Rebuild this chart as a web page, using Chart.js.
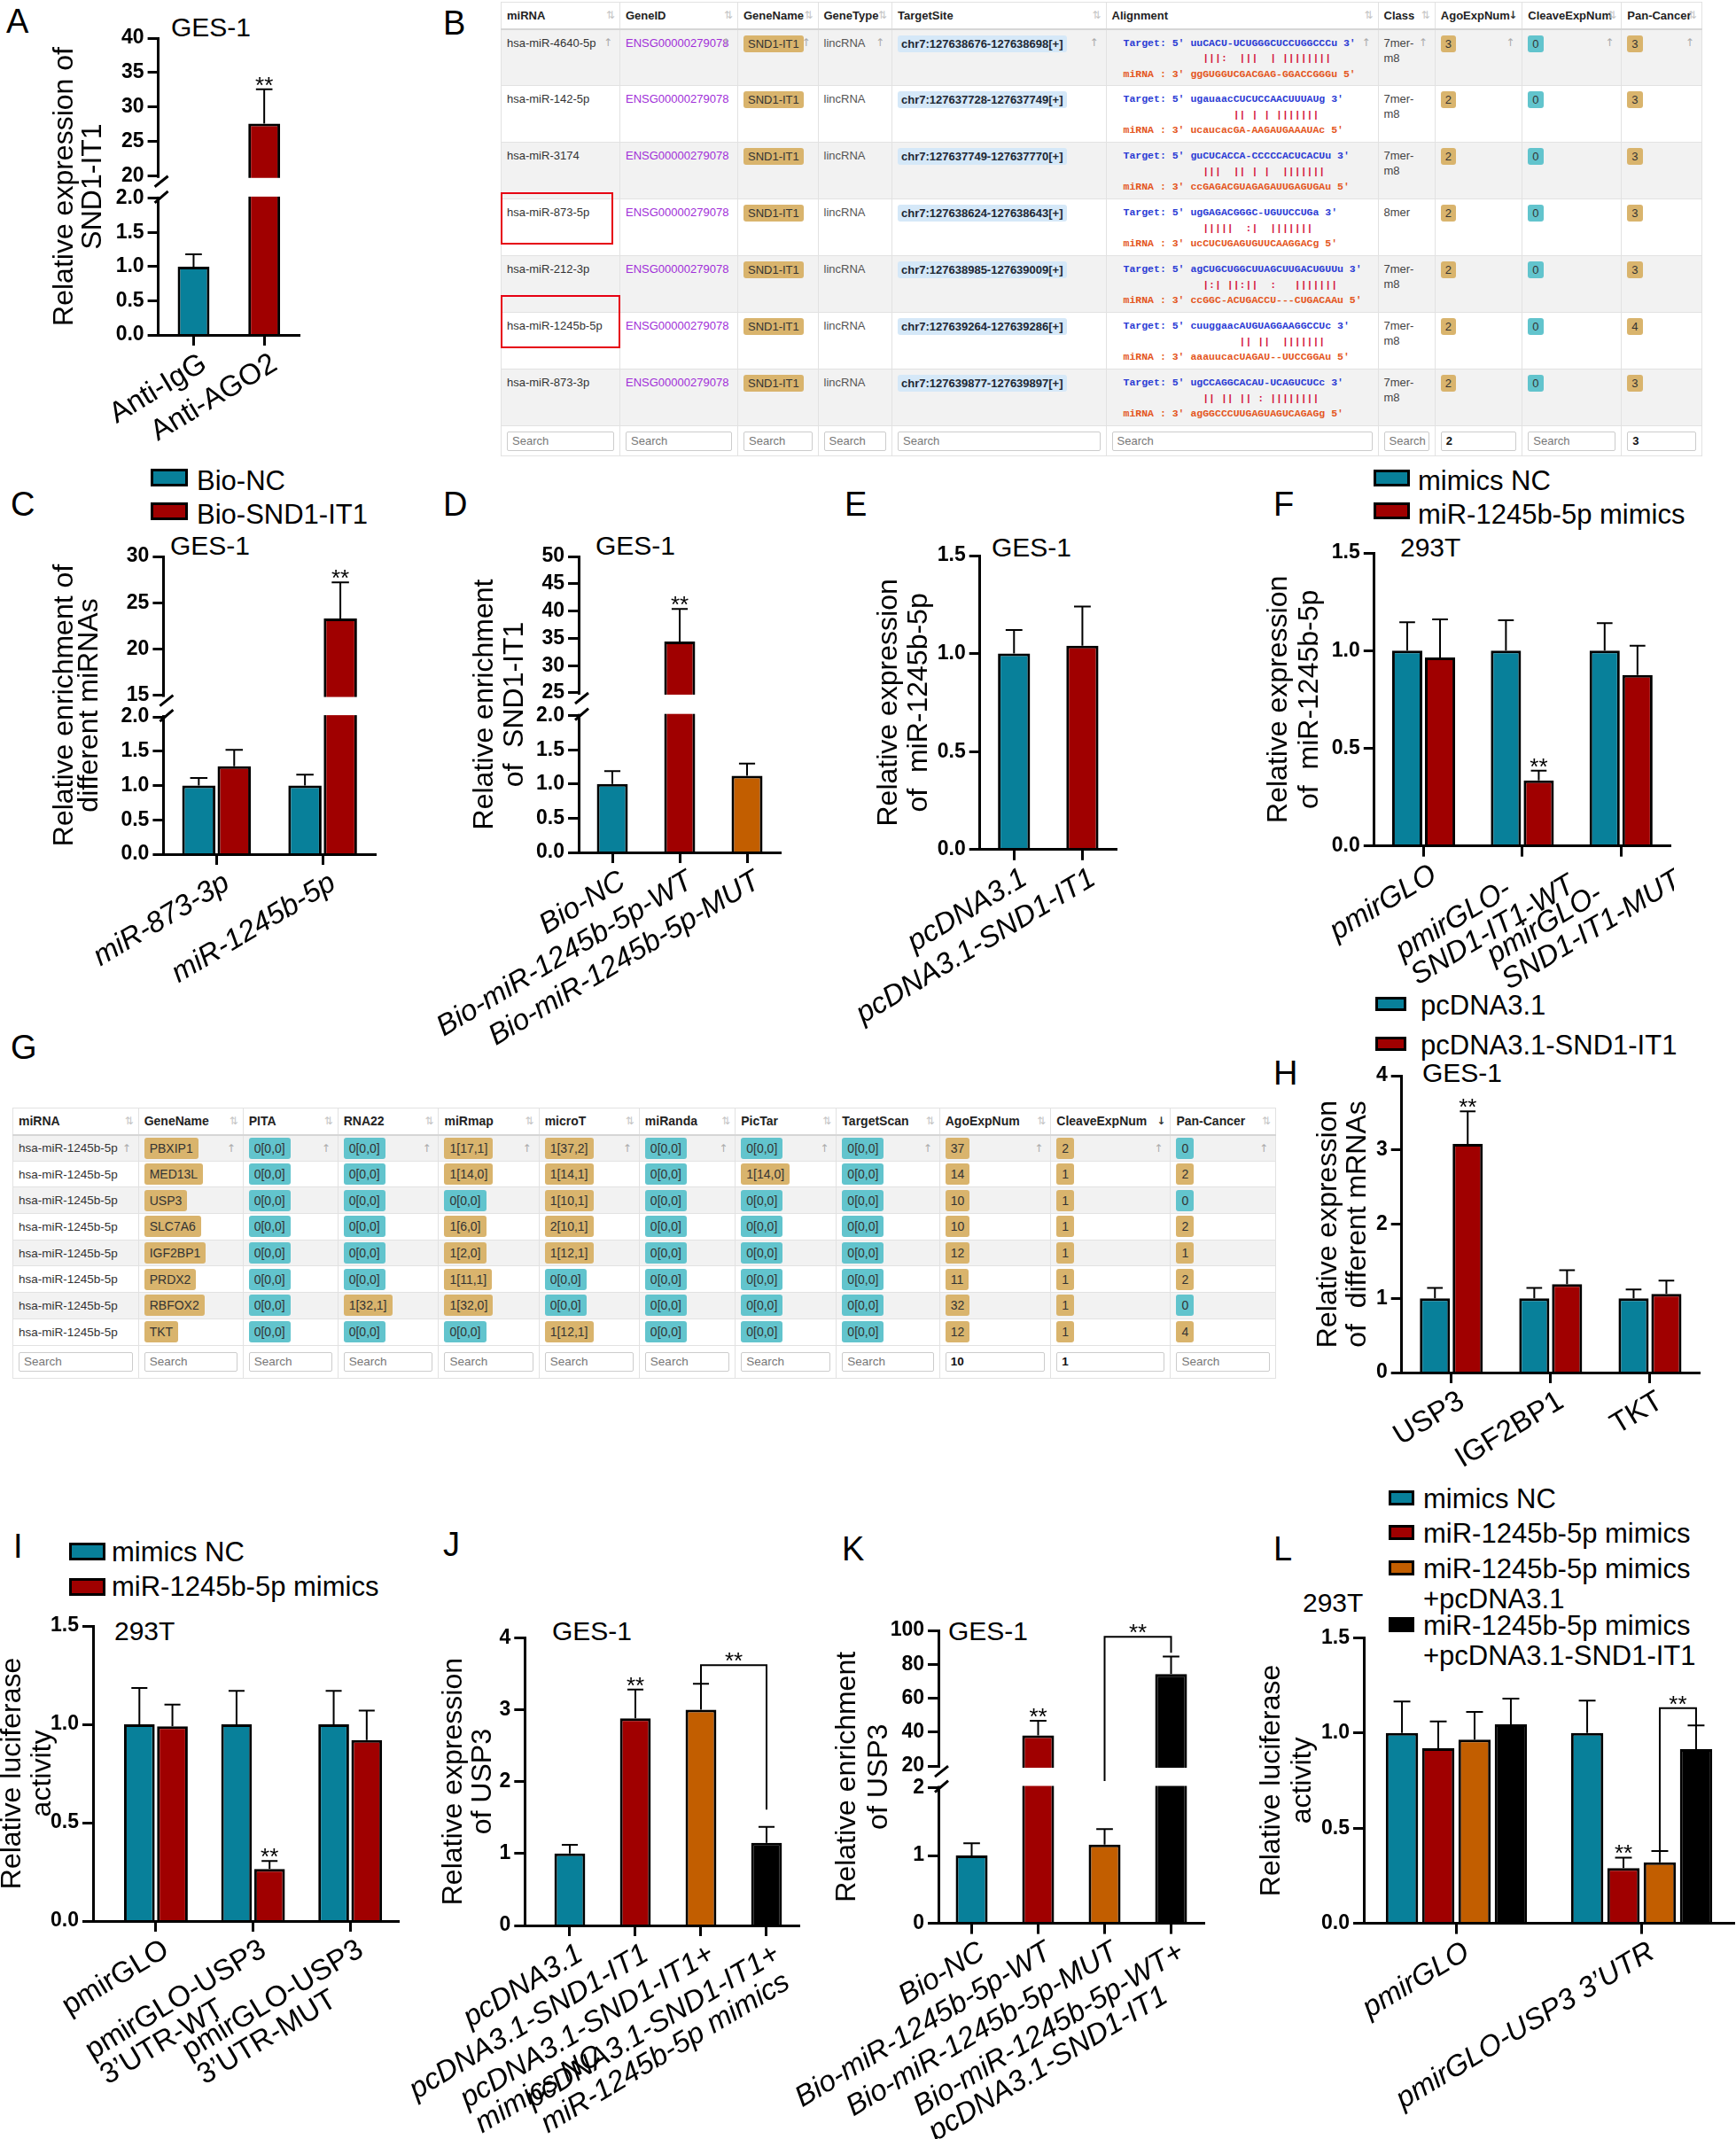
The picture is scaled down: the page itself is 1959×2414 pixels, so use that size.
<!DOCTYPE html>
<html>
<head>
<meta charset="utf-8">
<title>SND1-IT1 / miR-1245b-5p / USP3</title>
<script src="https://cdn.jsdelivr.net/npm/chart.js"></script>
<style>
  html, body { margin: 0; padding: 0; background: #fff; overflow: hidden; }
  body { position: relative; width: 1959px; height: 2414px; font-family: "Liberation Sans", Arial, sans-serif; }
  .t { position: absolute; white-space: nowrap; line-height: 1; color: #000; }
  .box { position: absolute; border: 3px solid #000; box-sizing: border-box; }
  .redbox { position: absolute; border: 2px solid #e60012; box-sizing: border-box; }
  canvas { position: absolute; }

  table.tb { position: absolute; border-collapse: collapse; table-layout: fixed; color: #333; background: #fff; font-family: "Liberation Sans", Arial, sans-serif; }
  .tb td, .tb th { position: relative; border: 1px solid #e2e2e2; box-sizing: border-box; overflow: hidden; white-space: nowrap; text-align: left; padding: 0 6px; }
  .tb th { font-weight: bold; color: #222; border-bottom: 2px solid #d6d6d6; vertical-align: middle; background: #fff; }
  .tb tr.odd td { background: #f2f2f2; }
  .tb tr.sch td { background: #fff; vertical-align: middle; padding-top: 0; }
  .srt { position: absolute; right: 5px; top: 50%; transform: translateY(-50%); font-family: "DejaVu Sans", sans-serif; font-weight: normal; font-size: 12px; color: #c4c4c4; }
  .srt.on { color: #333; font-weight: bold; }
  .up { position: absolute; right: 8px; top: 6px; font-family: "DejaVu Sans", sans-serif; font-size: 12px; color: #aaa; }
  .bd { display: inline-block; border-radius: 3px; color: #333; }
  .sr { border: 1px solid #ccc; border-radius: 2px; height: 22px; line-height: 20px; box-sizing: border-box; padding-left: 5px; color: #777; overflow: hidden; background: #fff; }
  .sr.v { color: #111; font-weight: bold; }

  .tbB { font-size: 13px; }
  .tbB th { height: 30px; }
  .tbB td { height: 64px; vertical-align: top; padding-top: 6px; line-height: 17px; }
  .tbB tr.sch td { height: 34px; }
  .tbB .bd { padding: 0 5px; line-height: 19px; }
  .aln { font-family: "Liberation Mono", monospace; font-size: 11.5px; line-height: 17.5px; white-space: pre; font-weight: bold; }

  .tbG { font-size: 13.5px; }
  .tbG th { height: 30px; font-size: 14px; }
  .tbG td { height: 29.7px; vertical-align: middle; }
  .tbG tr.sch td { height: 37.5px; }
  .tbG .bd { padding: 0 6px; line-height: 24px; font-size: 14px; }
  .tbG .up { top: 7px; }
</style>
</head>
<body>
<script>
// ---------- data ----------
const TEAL = '#08809a', RED = '#a00000', ORANGE = '#c25e00', BLACK = '#000000';

// A
const aLabels = ['Anti-IgG', 'Anti-AGO2'];
const aVals = [1.0, 27.6];
const aErr = [0.18, 5.0];
const aSig = ['', '**'];
const aTicks = [0, 0.5, 1, 1.5, 2, 20, 25, 30, 35, 40];

// C
const cLabels = ['miR-873-3p', 'miR-1245b-5p'];
const cNC = [1.0, 1.0];
const cNCErr = [0.11, 0.16];
const cSND = [1.28, 23.3];
const cSNDErr = [0.24, 3.9];
const cSig = ['', '**'];
const cTicks = [0, 0.5, 1, 1.5, 2, 15, 20, 25, 30];

// D
const dLabels = ['Bio-NC', 'Bio-miR-1245b-5p-WT', 'Bio-miR-1245b-5p-MUT'];
const dVals = [1.0, 34.4, 1.12];
const dErr = [0.19, 6.0, 0.18];
const dSig = ['', '**', ''];
const dTicks = [0, 0.5, 1, 1.5, 2, 25, 30, 35, 40, 45, 50];

// E
const eLabels = ['pcDNA3.1', 'pcDNA3.1-SND1-IT1'];
const eVals = [1.0, 1.04];
const eErr = [0.12, 0.2];
const eTicks = [0, 0.5, 1, 1.5];

// F
const fLabels = ['pmirGLO', ['pmirGLO-', 'SND1-IT1-WT'], ['pmirGLO-', 'SND1-IT1-MUT']];
const fNC = [1.0, 1.0, 1.0];
const fNCErr = [0.145, 0.155, 0.14];
const fMim = [0.965, 0.335, 0.875];
const fMimErr = [0.195, 0.05, 0.15];
const fSig = ['', '**', ''];
const fTicks = [0, 0.5, 1, 1.5];

// H
const hLabels = ['USP3', 'IGF2BP1', 'TKT'];
const hPc = [1.0, 1.0, 1.0];
const hPcErr = [0.14, 0.14, 0.12];
const hSnd = [3.08, 1.19, 1.06];
const hSndErr = [0.44, 0.19, 0.18];
const hSig = ['**', '', ''];
const hTicks = [0, 1, 2, 3, 4];

// I
const iLabels = ['pmirGLO', ['pmirGLO-USP3', '3’UTR-WT'], ['pmirGLO-USP3', '3’UTR-MUT']];
const iNC = [1.0, 1.0, 1.0];
const iNCErr = [0.185, 0.17, 0.17];
const iMim = [0.99, 0.265, 0.92];
const iMimErr = [0.11, 0.04, 0.15];
const iSig = ['', '**', ''];
const iTicks = [0, 0.5, 1, 1.5];

// J
const jLabels = ['pcDNA3.1', 'pcDNA3.1-SND1-IT1', ['pcDNA3.1-SND1-IT1+', 'mimics NC'], ['pcDNA3.1-SND1-IT1+', 'miR-1245b-5p mimics']];
const jVals = [1.0, 2.88, 3.0, 1.15];
const jErr = [0.12, 0.4, 0.36, 0.22];
const jSig = ['', '**', '', ''];
const jTicks = [0, 1, 2, 3, 4];

// K
const kLabels = ['Bio-NC', 'Bio-miR-1245b-5p-WT', 'Bio-miR-1245b-5p-MUT', ['Bio-miR-1245b-5p-WT+', 'pcDNA3.1-SND1-IT1']];
const kVals = [1.0, 38.1, 1.16, 74.2];
const kErr = [0.18, 8.6, 0.23, 10.4];
const kSig = ['', '**', '', ''];
const kTicks = [0, 1, 2, 20, 40, 60, 80, 100];

// L
const lLabels = ['pmirGLO', 'pmirGLO-USP3 3’UTR'];
const lNC = [1.0, 1.0];
const lNCErr = [0.165, 0.17];
const lMim = [0.92, 0.29];
const lMimErr = [0.14, 0.055];
const lMimPc = [0.965, 0.32];
const lMimPcErr = [0.145, 0.06];
const lMimSnd = [1.045, 0.915];
const lMimSndErr = [0.135, 0.125];
const lSig = ['', '**'];
const lTicks = [0, 0.5, 1, 1.5];

// table B (starBase style)
const bMirna = ['hsa-miR-4640-5p', 'hsa-miR-142-5p', 'hsa-miR-3174', 'hsa-miR-873-5p', 'hsa-miR-212-3p', 'hsa-miR-1245b-5p', 'hsa-miR-873-3p'];
const bSite = ['chr7:127638676-127638698[+]', 'chr7:127637728-127637749[+]', 'chr7:127637749-127637770[+]', 'chr7:127638624-127638643[+]', 'chr7:127638985-127639009[+]', 'chr7:127639264-127639286[+]', 'chr7:127639877-127639897[+]'];
const bTarget = ['uuCACU-UCUGGGCUCCUGGCCCu', 'ugauaacCUCUCCAACUUUAUg', 'guCUCACCA-CCCCCACUCACUu', 'ugGAGACGGGC-UGUUCCUGa', 'agCUGCUGGCUUAGCUUGACUGUUu', 'cuuggaacAUGUAGGAAGGCCUc', 'ugCCAGGCACAU-UCAGUCUCc'];
const sp = n => ' '.repeat(n);
const bPairs = [sp(13) + '|||:  |||  | ||||||||', sp(18) + '|| | | |||||||', sp(13) + '|||  || | |  |||||||', sp(13) + '|||||  :|  |||||||', sp(13) + '|:| ||:||  :   |||||||', sp(19) + '|| ||  |||||||', sp(13) + '|| || || : ||||||||'];
const bMir = ['ggGUGGUCGACGAG-GGACCGGGu', 'ucaucacGA-AAGAUGAAAUAc', 'ccGAGACGUAGAGAUUGAGUGAu', 'ucCUCUGAGUGUUCAAGGACg', 'ccGGC-ACUGACCU---CUGACAAu', 'aaauucacUAGAU--UUCCGGAu', 'agGGCCCUUGAGUAGUCAGAGg'];
const bClass = ['7mer-m8', '7mer-m8', '7mer-m8', '8mer', '7mer-m8', '7mer-m8', '7mer-m8'];
const bAgo = [3, 2, 2, 2, 2, 2, 2];
const bCleave = [0, 0, 0, 0, 0, 0, 0];
const bPan = [3, 3, 3, 3, 3, 4, 3];

// table G
const gGene = ['PBXIP1', 'MED13L', 'USP3', 'SLC7A6', 'IGF2BP1', 'PRDX2', 'RBFOX2', 'TKT'];
const gPita = ['0[0,0]', '0[0,0]', '0[0,0]', '0[0,0]', '0[0,0]', '0[0,0]', '0[0,0]', '0[0,0]'];
const gRna22 = ['0[0,0]', '0[0,0]', '0[0,0]', '0[0,0]', '0[0,0]', '0[0,0]', '1[32,1]', '0[0,0]'];
const gMirmap = ['1[17,1]', '1[14,0]', '0[0,0]', '1[6,0]', '1[2,0]', '1[11,1]', '1[32,0]', '0[0,0]'];
const gMicroT = ['1[37,2]', '1[14,1]', '1[10,1]', '2[10,1]', '1[12,1]', '0[0,0]', '0[0,0]', '1[12,1]'];
const gMiranda = ['0[0,0]', '0[0,0]', '0[0,0]', '0[0,0]', '0[0,0]', '0[0,0]', '0[0,0]', '0[0,0]'];
const gPictar = ['0[0,0]', '1[14,0]', '0[0,0]', '0[0,0]', '0[0,0]', '0[0,0]', '0[0,0]', '0[0,0]'];
const gTscan = ['0[0,0]', '0[0,0]', '0[0,0]', '0[0,0]', '0[0,0]', '0[0,0]', '0[0,0]', '0[0,0]'];
const gAgo = [37, 14, 10, 10, 12, 11, 32, 12];
const gCleave = [2, 1, 1, 1, 1, 1, 1, 1];
const gPan = [0, 2, 0, 2, 1, 2, 0, 4];

// ---------- panel layout (page pixels) ----------
const PANELS = [
  { id: 'pA', plot: { l: 178.6, r: 337.5, t: 43, b: 378 }, t1: 73, lh: 32, title: ['Relative expression of', 'SND1-IT1'],
    labels: aLabels, italic: false, cp: 1, bp: 0.45,
    sets: [{ data: aVals, err: aErr, sig: aSig, color: [TEAL, RED] }],
    brk: { lowMax: 2, highMin: 20, max: 40, lowFrac: 0.46, gapFrac: 0.075, ticks: aTicks, dec: 1 } },
  { id: 'pC', plot: { l: 184.4, r: 424, t: 628, b: 964 }, t1: 73, lh: 28, title: ['Relative enrichment of', 'different miRNAs'],
    labels: cLabels, italic: true, cp: 0.667, bp: 0.94,
    sets: [{ data: cNC, err: cNCErr, color: TEAL }, { data: cSND, err: cSNDErr, sig: cSig, color: RED }],
    brk: { lowMax: 2, highMin: 15, max: 30, lowFrac: 0.461, gapFrac: 0.073, ticks: cTicks, dec: 1 } },
  { id: 'pD', plot: { l: 653, r: 881, t: 628, b: 962 }, t1: 547, lh: 34, title: ['Relative enrichment', 'of  SND1-IT1'],
    labels: dLabels, italic: true, cp: 1, bp: 0.46,
    sets: [{ data: dVals, err: dErr, sig: dSig, color: [TEAL, RED, ORANGE] }],
    brk: { lowMax: 2, highMin: 25, max: 50, lowFrac: 0.462, gapFrac: 0.077, ticks: dTicks, dec: 1 } },
  { id: 'pE', plot: { l: 1105.7, r: 1260, t: 627, b: 958.8 }, t1: 1003, lh: 34, title: ['Relative expression', 'of  miR-1245b-5p'],
    labels: eLabels, italic: true, cp: 1, bp: 0.47,
    sets: [{ data: eVals, err: eErr, color: [TEAL, RED] }],
    lin: { max: 1.5, ticks: eTicks, dec: 1 } },
  { id: 'pF', plot: { l: 1550.8, r: 1885, t: 624, b: 954.7 }, t1: 1443.6, lh: 35, title: ['Relative expression', 'of  miR-1245b-5p'],
    labels: fLabels, italic: true, cp: 0.665, bp: 0.92,
    sets: [{ data: fNC, err: fNCErr, color: TEAL }, { data: fMim, err: fMimErr, sig: fSig, color: RED }],
    lin: { max: 1.5, ticks: fTicks, dec: 1 } },
  { id: 'pH', plot: { l: 1581.7, r: 1918, t: 1214, b: 1549 }, t1: 1499, lh: 33, title: ['Relative expression', 'of  different mRNAs'],
    labels: hLabels, italic: false, cp: 0.66, bp: 0.92,
    sets: [{ data: hPc, err: hPcErr, color: TEAL }, { data: hSnd, err: hSndErr, sig: hSig, color: RED }],
    lin: { max: 4, ticks: hTicks, dec: 0 } },
  { id: 'pI', plot: { l: 105, r: 449.6, t: 1835, b: 2168 }, t1: 14, lh: 34, title: ['Relative luciferase', 'activity'],
    labels: iLabels, italic: false, cp: 0.68, bp: 0.93, gap: 0.147,
    sets: [{ data: iNC, err: iNCErr, color: TEAL }, { data: iMim, err: iMimErr, sig: iSig, color: RED }],
    lin: { max: 1.5, ticks: iTicks, dec: 1 } },
  { id: 'pJ', plot: { l: 592.3, r: 902, t: 1848.3, b: 2173 }, t1: 512.6, lh: 33, title: ['Relative expression', 'of USP3'],
    labels: jLabels, italic: true, cp: 1, bp: 0.47, gap: 0.185,
    sets: [{ data: jVals, err: jErr, sig: jSig, color: [TEAL, RED, ORANGE, BLACK] }],
    lin: { max: 4, ticks: jTicks, dec: 0 },
    brackets: [{ a: [0, 2], b: [0, 3], top: 3.62, aEnd: 3.36, bEnd: 1.61, text: '**' }] },
  { id: 'pK', plot: { l: 1059, r: 1359, t: 1840, b: 2170.6 }, t1: 956, lh: 36, title: ['Relative enrichment', 'of USP3'],
    labels: kLabels, italic: true, cp: 1, bp: 0.48,
    sets: [{ data: kVals, err: kErr, sig: kSig, color: [TEAL, RED, ORANGE, BLACK] }],
    brk: { lowMax: 2, highMin: 20, max: 100, lowFrac: 0.463, gapFrac: 0.074, ticks: kTicks, dec: 0 },
    brackets: [{ a: [0, 2], b: [0, 3], top: 96.2, aEnd: 7.6, bEnd: 86.8, text: '**' }] },
  { id: 'pL', plot: { l: 1539, r: 1957, t: 1848.3, b: 2170.6 }, t1: 1435, lh: 34.6, title: ['Relative luciferase', 'activity'],
    labels: lLabels, italic: true, cp: 0.784, bp: 0.89,
    sets: [{ data: lNC, err: lNCErr, color: TEAL }, { data: lMim, err: lMimErr, sig: lSig, color: RED },
           { data: lMimPc, err: lMimPcErr, color: ORANGE }, { data: lMimSnd, err: lMimSndErr, color: BLACK }],
    lin: { max: 1.5, ticks: lTicks, dec: 1 },
    brackets: [{ a: [2, 1], b: [3, 1], top: 1.13, aEnd: 0.38, bEnd: 1.04, text: '**' }] }
];

const LETTERS = [['A', 7, 10], ['B', 500, 12], ['C', 12, 555], ['D', 500, 555], ['E', 953, 555], ['F', 1437, 555],
  ['G', 12, 1168], ['H', 1437, 1197], ['I', 15, 1731], ['J', 500, 1729], ['K', 950, 1734], ['L', 1437, 1734]];
const CELL_TITLES = [['GES-1', 193, 20], ['GES-1', 192, 605], ['GES-1', 672, 605], ['GES-1', 1119, 607], ['293T', 1580, 607],
  ['GES-1', 1605, 1200], ['293T', 129, 1830], ['GES-1', 623, 1830], ['GES-1', 1070, 1830], ['293T', 1470, 1798]];
// [box x, box y, w, h, colour, text x, text cap top, text]
const LEGENDS = [
  [170, 529, 42, 20, TEAL, 222, 531, 'Bio-NC'], [170, 567, 42, 20, RED, 222, 569, 'Bio-SND1-IT1'],
  [1549.5, 530, 41, 19, TEAL, 1600, 531, 'mimics NC'], [1549.5, 567, 41, 19, RED, 1600, 569, 'miR-1245b-5p mimics'],
  [1552, 1125, 35, 16, TEAL, 1603, 1123, 'pcDNA3.1'], [1552, 1170, 35, 16, RED, 1603, 1168, 'pcDNA3.1-SND1-IT1'],
  [78, 1741, 41, 20, TEAL, 126, 1740, 'mimics NC'], [78, 1781, 41, 20, RED, 126, 1779, 'miR-1245b-5p mimics'],
  [1567, 1682, 29, 17, TEAL, 1606, 1680, 'mimics NC'], [1567, 1721, 29, 17, RED, 1606, 1719, 'miR-1245b-5p mimics'],
  [1567, 1761, 29, 17, ORANGE, 1606, 1759, 'miR-1245b-5p mimics'], [null, 0, 0, 0, null, 1606, 1793, '+pcDNA3.1'],
  [1567, 1825, 29, 17, BLACK, 1606, 1823, 'miR-1245b-5p mimics'], [null, 0, 0, 0, null, 1606, 1857, '+pcDNA3.1-SND1-IT1']
];

// ---------- html helpers ----------
function addText(x, capTop, size, text, extra) {
  const d = document.createElement('div');
  d.className = 't';
  d.style.left = x + 'px';
  d.style.top = (capTop - 0.13 * size) + 'px';
  d.style.fontSize = size + 'px';
  if (extra) Object.assign(d.style, extra);
  d.textContent = text;
  document.body.appendChild(d);
  return d;
}
function addBox(x, y, w, h, color) {
  const d = document.createElement('div');
  d.className = 'box';
  Object.assign(d.style, { left: x + 'px', top: y + 'px', width: w + 'px', height: h + 'px', background: color });
  document.body.appendChild(d);
}

// ---------- tables ----------
const TAN = '#d9b46d', CYAN = '#62c4cd', SKY = '#d5e8f8';
const badge = (txt, bg) => `<span class="bd" style="background:${bg}">${txt}</span>`;
const numBadge = v => badge(v, String(v).charAt(0) === '0' ? CYAN : TAN);

function headRow(names, onIdx) {
  return '<tr>' + names.map((n, i) => `<th>${n}<span class="srt${i === onIdx ? ' on' : ''}">${i === onIdx ? '↓' : '⇅'}</span></th>`).join('') + '</tr>';
}
function searchRow(vals) {
  return '<tr class="sch">' + vals.map(v => `<td><div class="sr${v ? ' v' : ''}">${v || 'Search'}</div></td>`).join('') + '</tr>';
}
function colgroup(ws) { return '<colgroup>' + ws.map(w => `<col style="width:${w}px">`).join('') + '</colgroup>'; }

(function tableB() {
  const cols = [134, 133, 90.5, 83.5, 241.5, 307, 64.3, 98.5, 112, 90.6];
  const head = ['miRNA', 'GeneID', 'GeneName', 'GeneType', 'TargetSite', 'Alignment', 'Class', 'AgoExpNum', 'CleaveExpNum', 'Pan-Cancer'];
  let h = `<table class="tb tbB" style="left:565px;top:2px;width:1355px">` + colgroup(cols) + headRow(head, 7);
  for (let r = 0; r < bMirna.length; r++) {
    const up = r === 0 ? '<span class="up">↑</span>' : '';
    const cells = [
      bMirna[r],
      '<span style="color:#a12fd8">ENSG00000279078</span>',
      badge('SND1-IT1', TAN),
      '<span style="color:#555">lincRNA</span>',
      `<span class="bd" style="background:${SKY};font-weight:bold;color:#1d2733;padding:0 4px">${bSite[r]}</span>`,
      `<div class="aln"><span style="color:#2b3bd4">Target: 5' ${bTarget[r]} 3'</span>\n<span style="color:#d4143c">${bPairs[r]}</span>\n<span style="color:#e4561d">miRNA : 3' ${bMir[r]} 5'</span></div>`,
      `<span style="color:#444">${bClass[r].replace('mer-', 'mer-<br>')}</span>`,
      badge(bAgo[r], TAN), numBadge(bCleave[r]), badge(bPan[r], TAN)
    ];
    h += `<tr class="${r % 2 === 0 ? 'odd' : ''}">` + cells.map((c, k) => `<td${k === 5 ? ' style="padding-left:19px"' : ''}>${c}${up}</td>`).join('') + '</tr>';
  }
  h += searchRow(['', '', '', '', '', '', '', '2', '', '3']) + '</table>';
  document.body.insertAdjacentHTML('beforeend', h);
  // highlighted miRNAs
  [[564.5, 217, 127, 59], [564.5, 333, 135.5, 60]].forEach(([x, y, w, hh]) => {
    const d = document.createElement('div');
    d.className = 'redbox';
    Object.assign(d.style, { left: x + 'px', top: y + 'px', width: w + 'px', height: hh + 'px' });
    document.body.appendChild(d);
  });
})();

(function tableG() {
  const cols = [141.7, 118, 107, 113.8, 113.2, 113.2, 108.4, 114.1, 116.4, 125.6, 135.1, 118.7];
  const head = ['miRNA', 'GeneName', 'PITA', 'RNA22', 'miRmap', 'microT', 'miRanda', 'PicTar', 'TargetScan', 'AgoExpNum', 'CleaveExpNum', 'Pan-Cancer'];
  let h = `<table class="tb tbG" style="left:14px;top:1250px;width:1425.2px">` + colgroup(cols) + headRow(head, 10);
  for (let r = 0; r < gGene.length; r++) {
    const up = r === 0 ? '<span class="up">↑</span>' : '';
    const cells = [
      'hsa-miR-1245b-5p', badge(gGene[r], TAN),
      numBadge(gPita[r]), numBadge(gRna22[r]), numBadge(gMirmap[r]), numBadge(gMicroT[r]),
      numBadge(gMiranda[r]), numBadge(gPictar[r]), numBadge(gTscan[r]),
      badge(gAgo[r], TAN), badge(gCleave[r], TAN), numBadge(gPan[r])
    ];
    h += `<tr class="${r % 2 === 0 ? 'odd' : ''}">` + cells.map(c => `<td>${c}${up}</td>`).join('') + '</tr>';
  }
  h += searchRow(['', '', '', '', '', '', '', '', '', '10', '1', '']) + '</table>';
  document.body.insertAdjacentHTML('beforeend', h);
})();

// ---------- text decorations ----------
LETTERS.forEach(([s, x, y]) => addText(x, y, 38, s));
CELL_TITLES.forEach(([s, x, y]) => addText(x, y, 30, s));
LEGENDS.forEach(([bx, by, bw, bh, col, tx, ty, s]) => {
  if (bx !== null) addBox(bx, by, bw, bh, col);
  addText(tx, ty, 31, s);
});

// ---------- Chart.js ----------
Chart.defaults.font.family = '"Liberation Sans", Arial, sans-serif';
Chart.defaults.color = '#000';
const BY_ID = {};

// y axis with a gap between a low and a high segment
class BrokenScale extends Chart.LinearScale {
  buildTicks() {
    return BY_ID[this.chart.canvas.id].brk.ticks.map(v => ({ value: v }));
  }
  getPixelForValue(v) {
    const b = BY_ID[this.chart.canvas.id].brk;
    const upFrac = 1 - b.lowFrac - b.gapFrac;
    let d;
    if (v <= b.lowMax) d = v / b.lowMax * b.lowFrac;
    else if (v >= b.highMin) d = b.lowFrac + b.gapFrac + (v - b.highMin) / (b.max - b.highMin) * upFrac;
    else d = b.lowFrac + (v - b.lowMax) / (b.highMin - b.lowMax) * b.gapFrac;
    return this.getPixelForDecimal(d);
  }
}
BrokenScale.id = 'broken';
BrokenScale.defaults = {};

// category axis with a little extra room before the first group
class GapCategory extends Chart.CategoryScale {
  buildTicks() {
    const t = super.buildTicks();
    const g = BY_ID[this.chart.canvas.id].gap || 0;
    this._startValue -= g;
    this._valueRange += g;
    return t;
  }
}
GapCategory.id = 'gapcat';
GapCategory.defaults = {};
Chart.register(BrokenScale, GapCategory);

const breakPlugin = {
  id: 'brk',
  afterDatasetsDraw(chart) {
    const p = BY_ID[chart.canvas.id];
    if (!p.brk) return;
    const ys = chart.scales.y, a = chart.chartArea, ctx = chart.ctx;
    const yHi = ys.getPixelForValue(p.brk.highMin), yLo = ys.getPixelForValue(p.brk.lowMax);
    ctx.save();
    ctx.fillStyle = '#fff';
    ctx.fillRect(a.left - 3, yHi + 2, a.right - a.left + 3, yLo - yHi - 4);
    ctx.strokeStyle = '#000';
    ctx.lineWidth = 3;
    ctx.beginPath();
    ctx.moveTo(a.left - 4, yHi + 12); ctx.lineTo(a.left + 11, yHi);
    ctx.moveTo(a.left - 4, yLo + 5); ctx.lineTo(a.left + 11, yLo - 8);
    ctx.stroke();
    ctx.restore();
  }
};

const annotPlugin = {
  id: 'annot',
  afterDatasetsDraw(chart) {
    const p = BY_ID[chart.canvas.id];
    const ys = chart.scales.y, ctx = chart.ctx;
    ctx.save();
    ctx.strokeStyle = '#000';
    ctx.fillStyle = '#000';
    ctx.lineWidth = 2;
    ctx.font = '26px "Liberation Sans", Arial, sans-serif';
    ctx.textAlign = 'center';
    ctx.textBaseline = 'alphabetic';
    chart.data.datasets.forEach((ds, i) => {
      chart.getDatasetMeta(i).data.forEach((bar, j) => {
        const v = ds.data[j], e = ds.err[j];
        const y0 = ys.getPixelForValue(v), y1 = ys.getPixelForValue(v + e);
        const hw = bar.width * 0.26;
        ctx.beginPath();
        ctx.moveTo(bar.x, y0); ctx.lineTo(bar.x, y1);
        ctx.moveTo(bar.x - hw, y1); ctx.lineTo(bar.x + hw, y1);
        ctx.stroke();
        if (ds.sig && ds.sig[j]) ctx.fillText(ds.sig[j], bar.x, y1 + 4);
      });
    });
    (p.brackets || []).forEach(br => {
      const xa = chart.getDatasetMeta(br.a[0]).data[br.a[1]].x;
      const xb = chart.getDatasetMeta(br.b[0]).data[br.b[1]].x;
      const y = ys.getPixelForValue(br.top);
      ctx.beginPath();
      ctx.moveTo(xa, ys.getPixelForValue(br.aEnd)); ctx.lineTo(xa, y);
      ctx.lineTo(xb, y); ctx.lineTo(xb, ys.getPixelForValue(br.bEnd));
      ctx.stroke();
      ctx.fillText(br.text, (xa + xb) / 2, y + 4);
    });
    ctx.restore();
  }
};

// rotated category labels; extra lines start under the first line
const xlabPlugin = {
  id: 'xlab',
  afterDraw(chart) {
    const p = BY_ID[chart.canvas.id];
    const xs = chart.scales.x, ctx = chart.ctx, base = chart.chartArea.bottom;
    const ang = 31 * Math.PI / 180;
    ctx.save();
    ctx.fillStyle = '#000';
    ctx.font = (p.italic ? 'italic ' : '') + '33px "Liberation Sans", Arial, sans-serif';
    ctx.textBaseline = 'middle';
    ctx.textAlign = 'left';
    chart.data.labels.forEach((lab, i) => {
      const lines = Array.isArray(lab) ? lab : [lab];
      const w1 = ctx.measureText(lines[0]).width;
      const wMax = Math.max(...lines.map(s => ctx.measureText(s).width));
      const x0 = -w1 - (wMax - w1) / 2;
      ctx.save();
      ctx.translate(xs.getPixelForValue(i) + 12, base + 30);
      ctx.rotate(-ang);
      lines.forEach((s, k) => ctx.fillText(s, x0, k * 33));
      ctx.restore();
    });
    ctx.restore();
  }
};

function tickText(p, v) {
  if (p.brk) return v <= p.brk.lowMax ? v.toFixed(p.brk.dec) : String(v);
  return v.toFixed(p.lin.dec);
}

function buildChart(p) {
  BY_ID[p.id] = p;
  const PL = 350, PT = 24, PR = 4, XH = 330;
  const yTitleLeft = p.t1 - p.lh / 2;
  const left = Math.round(yTitleLeft - PL);
  const top = Math.round(p.plot.t - PT);
  const W = Math.round(p.plot.r + PR - left);
  const H = Math.round(p.plot.b + XH - top);
  const yw = p.plot.l - left - PL;
  const pt = p.plot.t - top;
  const xh = H - (p.plot.b - top);

  const cv = document.createElement('canvas');
  cv.id = p.id;
  cv.width = W;
  cv.height = H;
  cv.style.left = left + 'px';
  cv.style.top = top + 'px';
  document.body.appendChild(cv);

  const axisGrid = { display: true, drawOnChartArea: false, drawTicks: true, tickLength: 12, tickWidth: 3, color: '#000' };
  const y = p.brk ? { type: 'broken', min: 0, max: p.brk.max }
                  : { type: 'linear', min: 0, max: p.lin.max, afterBuildTicks: s => { s.ticks = p.lin.ticks.map(v => ({ value: v })); } };
  Object.assign(y, {
    border: { display: true, width: 3, color: '#000' },
    grid: axisGrid,
    ticks: { autoSkip: false, padding: 4, color: '#000', font: { size: 23, weight: 'bold' }, callback: v => tickText(p, v) },
    title: { display: true, text: p.title, color: '#000', padding: 0, font: { size: 32, lineHeight: p.lh / 32 } },
    afterFit: s => { s.width = yw; s.paddingTop = 0; s.paddingBottom = 0; }
  });

  new Chart(cv, {
    type: 'bar',
    data: {
      labels: p.labels,
      datasets: p.sets.map(s => ({
        data: s.data, err: s.err, sig: s.sig,
        backgroundColor: s.color, borderColor: '#000', borderWidth: 3,
        categoryPercentage: p.cp, barPercentage: p.bp
      }))
    },
    options: {
      responsive: false,
      animation: false,
      events: [],
      layout: { padding: { left: PL, top: pt, right: PR, bottom: 0 } },
      plugins: { legend: { display: false }, tooltip: { enabled: false } },
      scales: {
        x: {
          type: p.gap ? 'gapcat' : 'category',
          offset: true,
          border: { display: true, width: 3, color: '#000', z: 1 },
          grid: Object.assign({}, axisGrid, { offset: false }),
          ticks: { display: false },
          afterFit: s => { s.height = xh; s.paddingLeft = 0; s.paddingRight = 0; }
        },
        y: y
      }
    },
    plugins: [breakPlugin, annotPlugin, xlabPlugin]
  });
}

PANELS.forEach(buildChart);
</script>
</body>
</html>
